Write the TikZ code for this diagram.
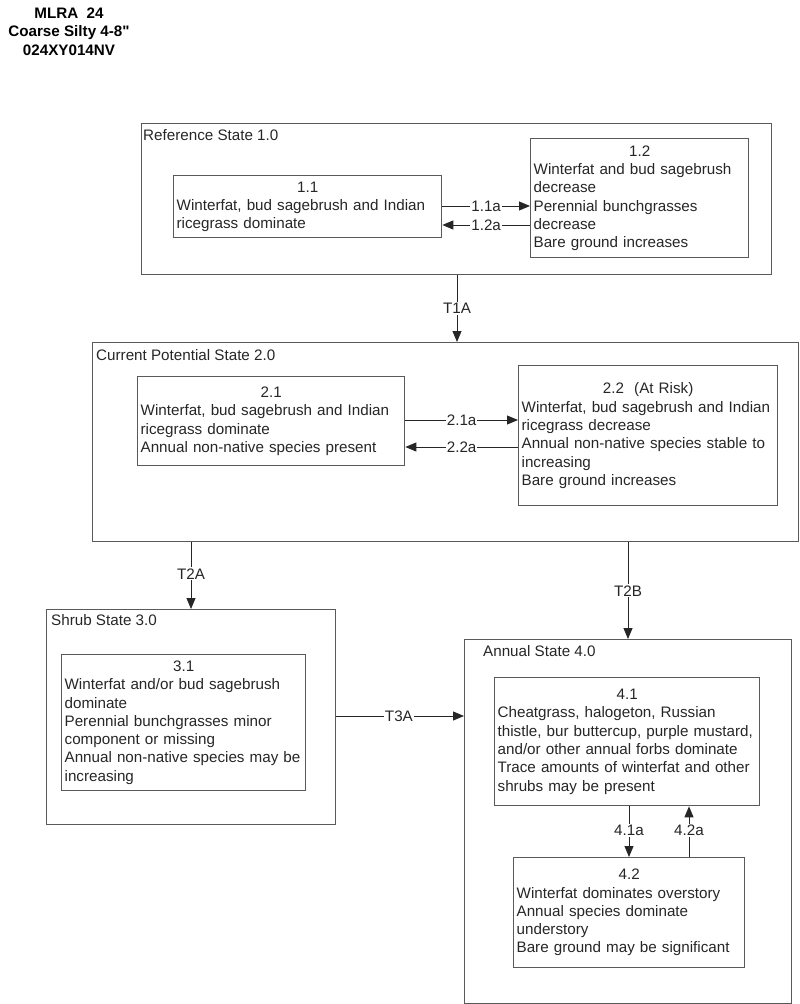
\documentclass[tikz,border=0pt]{standalone}
\usepackage{fontspec}
\setmainfont{Liberation Sans}
\newfontfamily\titlefont{Liberation Sans}
\usetikzlibrary{arrows.meta}
\definecolor{frame}{HTML}{5A5A5A}
\definecolor{ink}{HTML}{262626}
\tikzset{
  bodyfont/.style={font=\fontsize{15.2}{18.3}\selectfont},
  statebox/.style={draw=frame, line width=1.4pt, rectangle, inner sep=0pt, anchor=north west},
  statelabel/.style={bodyfont, text=ink, anchor=base west, inner sep=0pt},
  phasebox/.style={draw=frame, line width=1.3pt, rectangle, anchor=north west,
    inner xsep=3pt, inner ysep=0pt, align=left, bodyfont, text=ink},
  conn/.style={draw=ink, line width=0.9pt, -{Triangle[length=11pt,width=9pt]}},
  clabel/.style={bodyfont, text=ink, fill=white, inner xsep=1pt, inner ysep=1pt},
  titletext/.style={font=\titlefont\fontsize{15.2}{18.3}\selectfont\bfseries, align=center, inner sep=0pt}
}
\newcommand{\hdr}[1]{\makebox[\hsize]{#1}}
\begin{document}
\begin{tikzpicture}[x=1pt,y=-1pt]
\useasboundingbox (0,0) rectangle (800,1004);

\node[titletext] (title) at (69,31.5) {MLRA\ \ 24\\Coarse Silty 4-8"\\024XY014NV};

% State 1
\node[statebox, minimum width=630pt, minimum height=151pt] (s1) at (141,123) {};
\node[statelabel] (l1) at (143,140.5) {Reference State 1.0};
\node[phasebox, minimum width=268pt, minimum height=62pt, text width=262pt] (b11) at (173,175)
  {\hdr{1.1}\\Winterfat, bud sagebrush and Indian\\ricegrass dominate};
\node[phasebox, minimum width=218pt, minimum height=119pt, text width=212pt] (b12) at (530,138)
  {\hdr{1.2}\\Winterfat and bud sagebrush\\decrease\\Perennial bunchgrasses\\decrease\\Bare ground increases};

% State 2
\node[statebox, minimum width=706pt, minimum height=199pt] (s2) at (92,342) {};
\node[statelabel] (l2) at (96,360.5) {Current Potential State 2.0};
\node[phasebox, minimum width=267pt, minimum height=89pt, text width=261pt] (b21) at (137,376)
  {\hdr{2.1}\\Winterfat, bud sagebrush and Indian\\ricegrass dominate\\Annual non-native species present};
\node[phasebox, minimum width=259pt, minimum height=140pt, text width=253pt] (b22) at (518,365)
  {\hdr{2.2\ \ (At Risk)}\\Winterfat, bud sagebrush and Indian\\ricegrass decrease\\Annual non-native species stable to\\increasing\\Bare ground increases};

% State 3
\node[statebox, minimum width=289pt, minimum height=215pt] (s3) at (46,609) {};
\node[statelabel] (l3) at (51,625.5) {Shrub State 3.0};
\node[phasebox, minimum width=244pt, minimum height=136pt, text width=238pt] (b31) at (61,654)
  {\hdr{3.1}\\Winterfat and/or bud sagebrush\\dominate\\Perennial bunchgrasses minor\\component or missing\\Annual non-native species may be\\increasing};

% State 4
\node[statebox, minimum width=327pt, minimum height=364pt] (s4) at (464,639) {};
\node[statelabel] (l4) at (483,656.5) {Annual State 4.0};
\node[phasebox, minimum width=265pt, minimum height=128pt, text width=259pt] (b41) at (494,677)
  {\hdr{4.1}\\Cheatgrass, halogeton, Russian\\thistle, bur buttercup, purple mustard,\\and/or other annual forbs dominate\\Trace amounts of winterfat and other\\shrubs may be present};
\node[phasebox, minimum width=231pt, minimum height=110pt, text width=225pt] (b42) at (513,857)
  {\hdr{4.2}\\Winterfat dominates overstory\\Annual species dominate\\understory\\Bare ground may be significant};

% Connectors
\draw[conn] (b11.east |- 0,206) -- node[clabel] {1.1a} (b12.west |- 0,206);
\draw[conn] (b12.west |- 0,225) -- node[clabel] {1.2a} (b11.east |- 0,225);
\draw[conn] (b21.east |- 0,420) -- node[clabel] {2.1a} (b22.west |- 0,420);
\draw[conn] (b22.west |- 0,447) -- node[clabel] {2.2a} (b21.east |- 0,447);
\draw[conn] (s1.south -| 457,0) -- node[clabel] {T1A} (s2.north -| 457,0);
\draw[conn] (s2.south -| 191,0) -- node[clabel, pos=0.47] {T2A} (s3.north -| 191,0);
\draw[conn] (s2.south -| 628,0) -- node[clabel] {T2B} (s4.north -| 628,0);
\draw[conn] (s3.east |- 0,716) -- node[clabel, pos=0.49] {T3A} (s4.west |- 0,716);
\draw[conn] (b41.south -| 629,0) -- node[clabel, pos=0.48] {4.1a} (b42.north -| 629,0);
\draw[conn] (b42.north -| 689,0) -- node[clabel, pos=0.52] {4.2a} (b41.south -| 689,0);
\end{tikzpicture}
\end{document}
